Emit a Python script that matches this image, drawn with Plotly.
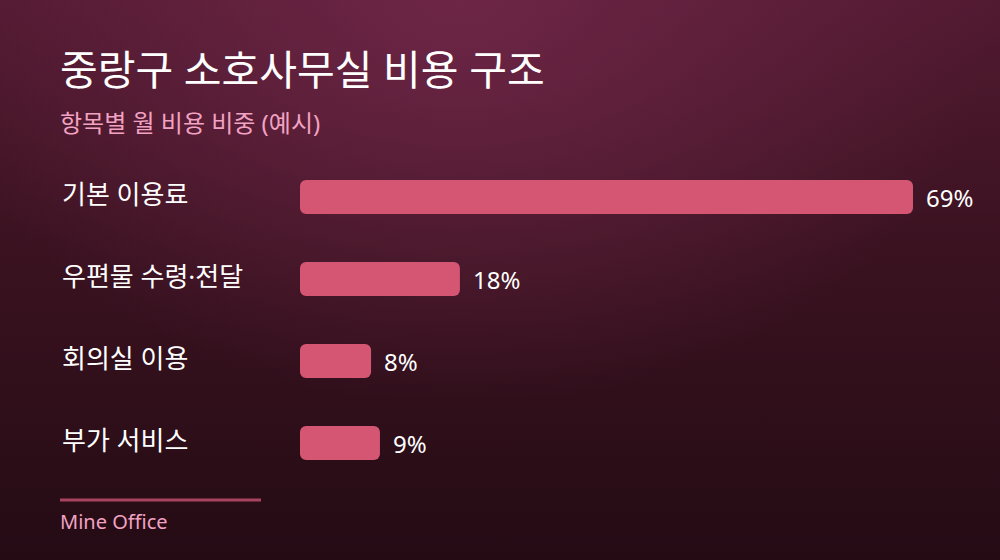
import base64
import plotly.graph_objects as go

categories = ["기본 이용료", "우편물 수령·전달", "회의실 이용", "부가 서비스"]
values = [69, 18, 8, 9]
value_labels = ["69%", "18%", "8%", "9%"]

title_text = "중랑구 소호사무실 비용 구조"
subtitle_text = "항목별 월 비용 비중 (예시)"
source_text = "Mine Office"

W, H = 1000, 560
FONT = "Noto Sans, Noto Sans CJK KR"
BAR_COLOR = "#d55673"

svg = f"""<svg xmlns='http://www.w3.org/2000/svg' width='{W}' height='{H}' viewBox='0 0 {W} {H}'>
<defs>
<linearGradient id='lg' x1='0' y1='0' x2='0' y2='1'>
<stop offset='0' stop-color='#521a31'/>
<stop offset='0.45' stop-color='#3a1220'/>
<stop offset='1' stop-color='#240b14'/>
</linearGradient>
<radialGradient id='rg' cx='460' cy='0' r='540' gradientUnits='userSpaceOnUse' gradientTransform='translate(460 0) scale(1 0.75) translate(-460 0)'>
<stop offset='0' stop-color='#72284a' stop-opacity='0.85'/>
<stop offset='1' stop-color='#72284a' stop-opacity='0'/>
</radialGradient>
</defs>
<rect width='{W}' height='{H}' fill='url(#lg)'/>
<rect width='{W}' height='{H}' fill='url(#rg)'/>
</svg>"""
bg_uri = "data:image/svg+xml;base64," + base64.b64encode(svg.encode()).decode()

px_per_unit = 613 / 69.0
x_max = (W - 300) / px_per_unit

# Each bar is drawn as two overlapping halves so that both ends get rounded
split_hi = [v * 0.4 for v in values]
split_lo = [v * 0.6 for v in values]

fig = go.Figure()
fig.add_trace(go.Bar(
    x=[v - s for v, s in zip(values, split_hi)],
    base=split_hi,
    y=categories,
    orientation="h",
    marker=dict(color=BAR_COLOR, line=dict(width=0)),
    width=0.415,
    hoverinfo="skip",
))
fig.add_trace(go.Bar(
    x=[-s for s in split_lo],
    base=split_lo,
    y=categories,
    orientation="h",
    marker=dict(color=BAR_COLOR, line=dict(width=0)),
    width=0.415,
    hoverinfo="skip",
))

annotations = []
for c in categories:
    annotations.append(dict(
        x=60 / W, xref="paper", y=c, yref="y",
        text=c, showarrow=False, xanchor="left", yanchor="middle",
        font=dict(family=FONT, size=26, color="#ffffff"), yshift=3,
    ))
for v, lab, c in zip(values, value_labels, categories):
    annotations.append(dict(
        x=v, xref="x", y=c, yref="y",
        text=lab, showarrow=False, xanchor="left", yanchor="middle",
        xshift=11, font=dict(family=FONT, size=24, color="#ffffff"),
    ))
annotations += [
    dict(x=58 / W, y=1 - 69 / H, xref="paper", yref="paper", text=title_text,
         showarrow=False, xanchor="left", yanchor="middle",
         font=dict(family=FONT, size=41, color="#ffffff")),
    dict(x=58 / W, y=1 - 122 / H, xref="paper", yref="paper", text=subtitle_text,
         showarrow=False, xanchor="left", yanchor="middle",
         font=dict(family=FONT, size=24, color="#f2a2c2")),
    dict(x=58 / W, y=1 - 521 / H, xref="paper", yref="paper", text=source_text,
         showarrow=False, xanchor="left", yanchor="middle",
         font=dict(family=FONT, size=20, color="#f2a2c2")),
]

fig.update_layout(
    width=W, height=H,
    margin=dict(l=0, r=0, t=0, b=0),
    paper_bgcolor="#2a0d18",
    plot_bgcolor="rgba(0,0,0,0)",
    showlegend=False,
    barmode="overlay",
    barcornerradius=6,
    xaxis=dict(domain=[0.30, 1.0], range=[0, x_max], visible=False, fixedrange=True),
    yaxis=dict(domain=[1 - 484 / H, 1 - 156 / H], categoryorder="array",
               categoryarray=categories, autorange="reversed",
               visible=False, fixedrange=True),
    images=[dict(source=bg_uri, xref="paper", yref="paper", x=0, y=1,
                 sizex=1, sizey=1, xanchor="left", yanchor="top",
                 sizing="stretch", layer="below")],
    shapes=[dict(type="line", xref="paper", yref="paper",
                 x0=60 / W, x1=261 / W, y0=1 - 500 / H, y1=1 - 500 / H,
                 line=dict(color="#a8445f", width=3))],
    annotations=annotations,
)

fig.write_html(
    "out.html",
    config={"displayModeBar": False},
    post_script="document.body.style.margin='0';document.body.style.overflow='hidden';",
)
